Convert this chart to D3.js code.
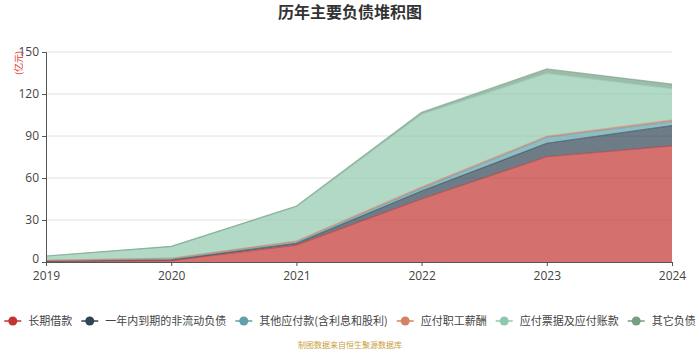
<!DOCTYPE html>
<html>
<head>
<meta charset="utf-8">
<script src="https://cdn.jsdelivr.net/npm/d3@7"></script>
<style>
  html, body { margin: 0; padding: 0; background: #fff; }
  svg { display: block; font-family: "Noto Sans CJK SC", "Noto Sans", sans-serif; }
</style>
</head>
<body>
<svg id="chart" width="700" height="350"></svg>
<script>
// Years on the x axis
const years = ["2019", "2020", "2021", "2022", "2023", "2024"];

// Series names (stack order, bottom to top)
const seriesNames = ["长期借款", "一年内到期的非流动负债", "其他应付款(含利息和股利)", "应付职工薪酬", "应付票据及应付账款", "其它负债"];

// Values in 亿元
const longTermLoans   = [0.5, 1.0, 12.1, 45.0, 75.2, 82.9];
const currentNonCurr  = [0.2, 0.5, 1.2, 5.7, 9.6, 14.5];
const otherPayables   = [0.3, 0.8, 1.0, 1.9, 4.3, 2.8];
const staffPayables   = [0.2, 0.4, 0.7, 0.9, 0.7, 1.2];
const notesAccounts   = [3.0, 8.3, 24.5, 52.0, 45.0, 22.4];
const otherLiab       = [0.1, 0.2, 0.5, 1.5, 3.1, 3.3];

const yTicks = [0, 30, 60, 90, 120, 150];

const seriesValues = [longTermLoans, currentNonCurr, otherPayables, staffPayables, notesAccounts, otherLiab];
const colors = ["#c23531", "#2f4554", "#61a0a8", "#d48265", "#91c7ae", "#749f83"];

const svg = d3.select("#chart");
const margin = { left: 46, right: 28, top: 52, bottom: 88 };
const W = 700, H = 350;
const x = d3.scalePoint().domain(years).range([margin.left, W - margin.right]);
const y = d3.scaleLinear().domain([0, 150]).range([H - margin.bottom, margin.top]);

// Build table for stacking
const table = years.map((yr, i) => {
  const row = { year: yr };
  seriesNames.forEach((n, k) => row[n] = seriesValues[k][i]);
  return row;
});
const stacked = d3.stack().keys(seriesNames)(table);

// Title
svg.append("text")
  .attr("x", W / 2).attr("y", 18)
  .attr("text-anchor", "middle")
  .attr("font-size", 16).attr("font-weight", "bold")
  .attr("fill", "#333")
  .text("历年主要负债堆积图");

// Grid lines
svg.append("g").selectAll("line")
  .data(yTicks.filter(d => d > 0))
  .join("line")
  .attr("x1", margin.left).attr("x2", W - margin.right)
  .attr("y1", d => y(d)).attr("y2", d => y(d))
  .attr("stroke", "#e0e0e0").attr("stroke-width", 1);

// Areas
const area = d3.area()
  .x(d => x(d.data.year))
  .y0(d => y(d[0]))
  .y1(d => y(d[1]));
const line = d3.line()
  .x(d => x(d.data.year))
  .y(d => y(d[1]));

const layers = svg.append("g");
stacked.forEach((s, k) => {
  layers.append("path")
    .attr("d", area(s))
    .attr("fill", colors[k])
    .attr("fill-opacity", 0.7);
});
stacked.forEach((s, k) => {
  layers.append("path")
    .attr("d", line(s))
    .attr("fill", "none")
    .attr("stroke", colors[k])
    .attr("stroke-opacity", 0.6)
    .attr("stroke-width", 1.2);
});

// Axes
const yAxis = d3.axisLeft(y).tickValues(yTicks).tickSize(4).tickPadding(3);
const gy = svg.append("g").attr("transform", `translate(${margin.left},0)`).call(yAxis);
gy.select(".domain").attr("stroke", "#555");
gy.selectAll(".tick line").attr("stroke", "#555");
gy.selectAll(".tick text").attr("font-size", 12).attr("fill", "#444")
  .attr("font-family", "'Open Sans', 'Noto Sans', sans-serif");
gy.selectAll(".tick text").filter(d => d === 0).attr("dy", "0.05em");

const xAxis = d3.axisBottom(x).tickSize(4).tickPadding(5).tickSizeOuter(0);
const gx = svg.append("g").attr("transform", `translate(0,${H - margin.bottom})`).call(xAxis);
gx.select(".domain").attr("stroke", "#555");
gx.selectAll(".tick line").attr("stroke", "#555");
gx.selectAll(".tick text").attr("font-size", 12).attr("fill", "#444")
  .attr("font-family", "'Open Sans', 'Noto Sans', sans-serif");

// Unit label
svg.append("text")
  .attr("transform", `translate(${margin.left - 24},${margin.top + 11}) rotate(-90)`)
  .attr("text-anchor", "middle")
  .attr("font-size", 9)
  .attr("fill", "#e03030")
  .text("(亿元)");

// Legend
const legend = svg.append("g").attr("transform", "translate(0,321)");
const items = legend.selectAll("g").data(seriesNames).join("g");
items.append("line")
  .attr("x1", 0).attr("x2", 17).attr("y1", 0).attr("y2", 0)
  .attr("stroke", (d, i) => colors[i]).attr("stroke-width", 1.5);
items.append("circle")
  .attr("cx", 8.5).attr("cy", 0).attr("r", 4.5)
  .attr("fill", (d, i) => colors[i]);
items.append("text")
  .attr("x", 24).attr("y", 4)
  .attr("font-size", 11).attr("fill", "#444")
  .text(d => d);
let widths = [];
items.each(function () {
  widths.push(24 + this.querySelector("text").getComputedTextLength());
});
const gap = 9;
const total = d3.sum(widths) + gap * (widths.length - 1);
let cx = (W - total) / 2;
items.attr("transform", (d, i) => {
  const t = `translate(${cx},0)`;
  cx += widths[i] + gap;
  return t;
});

// Source note
svg.append("text")
  .attr("x", W / 2).attr("y", 348)
  .attr("text-anchor", "middle")
  .attr("font-size", 8).attr("fill", "#c9a03c")
  .text("制图数据来自恒生聚源数据库");
</script>
</body>
</html>
